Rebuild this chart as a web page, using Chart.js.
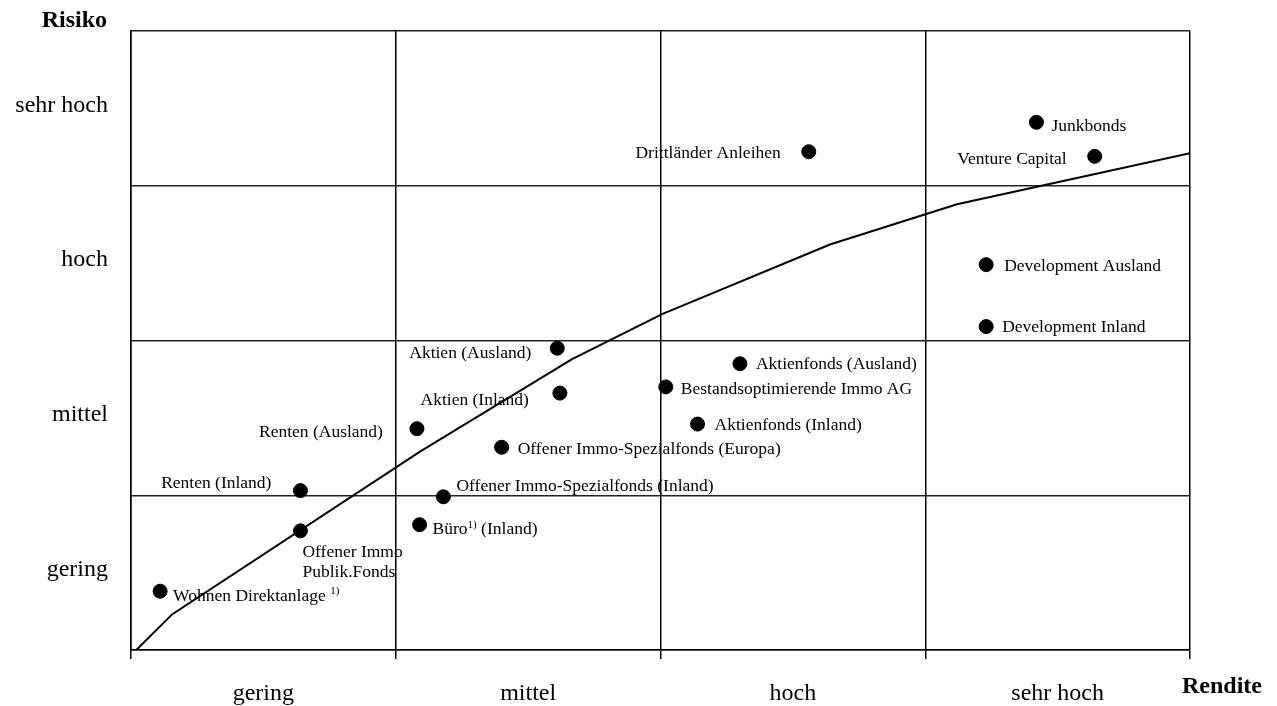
<!DOCTYPE html>
<html>
<head>
<meta charset="utf-8">
<script src="https://cdn.jsdelivr.net/npm/chart.js@4"></script>
<style>
    html, body { margin: 0; padding: 0; background: #fff; }
    #wrap { width: 1277px; height: 706px; }
</style>
</head>
<body>
<div id="wrap"><canvas id="riskChart"></canvas></div>
<script>
// categories on both axes
var xCats = ['gering', 'mittel', 'hoch', 'sehr hoch']
var yCats = ['gering', 'mittel', 'hoch', 'sehr hoch']

// investments: rendite (x) and risiko (y), 0..4 scale
var names = ['Wohnen Direktanlage ^1)', 'Offener Immo\nPublik.Fonds', 'Renten (Inland)', 'Renten (Ausland)',
    'Büro^1)^ (Inland)', 'Offener Immo-Spezialfonds (Inland)', 'Offener Immo-Spezialfonds (Europa)',
    'Aktien (Ausland)', 'Aktien (Inland)', 'Bestandsoptimierende Immo AG', 'Aktienfonds (Ausland)',
    'Aktienfonds (Inland)', 'Drittländer Anleihen', 'Junkbonds', 'Venture Capital',
    'Development Ausland', 'Development Inland']
var rendite = [0.11, 0.64, 0.64, 1.08, 1.09, 1.18, 1.40, 1.61, 1.62, 2.02, 2.30, 2.14, 2.56, 3.42, 3.64, 3.23, 3.23]
var risiko = [0.38, 0.77, 1.03, 1.43, 0.81, 0.99, 1.31, 1.95, 1.66, 1.70, 1.85, 1.46, 3.22, 3.41, 3.19, 2.49, 2.09]

// risk/return curve
var curveX = [0.02, 0.155, 1.09, 1.666, 2.006, 2.64, 3.12, 4.0]
var curveY = [0, 0.23, 1.28, 1.88, 2.17, 2.62, 2.88, 3.21]

// where each label sits relative to its dot (dx, dy, side)
var labelPos = [[13, 5, 'left'], [2, 22, 'left'], [-29, -7, 'right'], [-34, 4, 'right'],
    [13, 5, 'left'], [13, -10, 'left'], [16, 2, 'left'], [-26, 5, 'right'], [-31, 7, 'right'],
    [15, 2, 'left'], [16, 1, 'left'], [17, 1, 'left'], [-28, 2, 'right'], [15, 4, 'left'],
    [-28, 3, 'right'], [18, 2, 'left'], [16, 1, 'left']]

var serif = '"Liberation Serif", "Times New Roman", serif'

var pts = []
for (var i = 0; i < names.length; i++) {
    pts.push({ x: rendite[i], y: risiko[i] })
}
var curve = []
for (var j = 0; j < curveX.length; j++) {
    curve.push({ x: curveX[j], y: curveY[j] })
}

// draws one label, parts between ^ are superscript
function drawLabel(ctx, text, x, y, side) {
    var lines = text.split('\n')
    for (var l = 0; l < lines.length; l++) {
        var parts = lines[l].split('^')
        var widths = []
        var total = 0
        for (var p = 0; p < parts.length; p++) {
            ctx.font = (p % 2 ? '11px ' : '17.5px ') + serif
            widths[p] = ctx.measureText(parts[p]).width
            total += widths[p]
        }
        var cx = side == 'right' ? x - total : x
        var cy = y + l * 20
        for (var p = 0; p < parts.length; p++) {
            ctx.font = (p % 2 ? '11px ' : '17.5px ') + serif
            ctx.textAlign = 'left'
            ctx.textBaseline = 'middle'
            ctx.fillText(parts[p], cx, p % 2 ? cy - 5 : cy)
            cx += widths[p]
        }
    }
}

var labelPlugin = {
    id: 'pointLabels',
    afterDatasetsDraw: function (chart) {
        var ctx = chart.ctx
        var meta = chart.getDatasetMeta(1)
        ctx.save()
        ctx.fillStyle = '#000'
        for (var i = 0; i < meta.data.length; i++) {
            var el = meta.data[i]
            var lp = labelPos[i]
            drawLabel(ctx, names[i], el.x + lp[0], el.y + lp[1], lp[2])
        }
        // axis names
        var area = chart.chartArea
        ctx.font = 'bold 24px ' + serif
        ctx.textBaseline = 'middle'
        ctx.textAlign = 'right'
        ctx.fillText('Risiko', area.left - 24, 21)
        ctx.textAlign = 'left'
        ctx.fillText('Rendite', area.right - 8, 687)
        ctx.restore()
    }
}

var chart = document.getElementById('riskChart')
var riskChart = new Chart(chart, {
    type: 'scatter',
    data: {
        datasets: [{
            type: 'line',
            data: curve,
            borderColor: '#000',
            borderWidth: 2,
            pointRadius: 0,
            showLine: true,
            fill: false,
            tension: 0,
            order: 2
        }, {
            data: pts,
            backgroundColor: '#000',
            borderColor: '#000',
            pointRadius: 7,
            pointHoverRadius: 7,
            order: 1
        }]
    },
    options: {
        responsive: true,
        maintainAspectRatio: false,
        animation: false,
        layout: { padding: { top: 31, right: 87, left: 0, bottom: 0 } },
        plugins: {
            legend: { display: false },
            tooltip: { enabled: false }
        },
        scales: {
            x: {
                type: 'linear',
                min: 0,
                max: 4,
                afterFit: function (scale) {
                    scale.height = 56
                    scale.paddingLeft = 0
                    scale.paddingRight = 0
                },
                border: { color: '#000', width: 1.5 },
                grid: {
                    color: function (c) { return c.tick && c.tick.value % 1 === 0 ? '#000' : 'rgba(0,0,0,0)' },
                    lineWidth: 1.5,
                    tickLength: 9
                },
                ticks: {
                    stepSize: 0.5,
                    padding: 20,
                    maxRotation: 0,
                    autoSkip: false,
                    color: '#000',
                    font: { family: serif, size: 24 },
                    callback: function (v) { return v % 1 === 0.5 ? xCats[Math.floor(v)] : '' }
                }
            },
            y: {
                type: 'linear',
                min: 0,
                max: 4,
                afterFit: function (scale) {
                    scale.width = 131
                    scale.paddingTop = 0
                    scale.paddingBottom = 0
                },
                border: { color: '#000', width: 1.5 },
                grid: {
                    color: function (c) { return c.tick && c.tick.value % 1 === 0 ? '#222' : 'rgba(0,0,0,0)' },
                    lineWidth: 1.5,
                    drawTicks: false
                },
                ticks: {
                    stepSize: 0.5,
                    padding: 23,
                    labelOffset: -3,
                    autoSkip: false,
                    color: '#000',
                    font: { family: serif, size: 24 },
                    callback: function (v) { return v % 1 === 0.5 ? yCats[Math.floor(v)] : '' }
                }
            }
        }
    },
    plugins: [labelPlugin]
})
</script>
</body>
</html>
